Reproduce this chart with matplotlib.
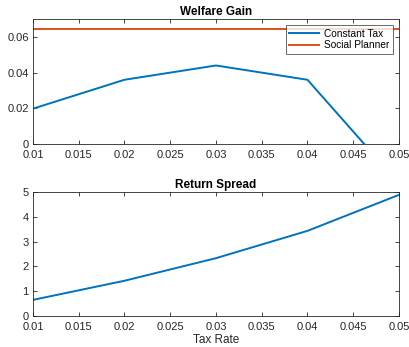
import matplotlib
matplotlib.use("Agg")
import matplotlib.pyplot as plt

plt.rcParams['font.family'] = ['Liberation Sans', 'DejaVu Sans']

tax_rate = [0.01, 0.02, 0.03, 0.04, 0.05]
welfare_constant = [0.0198, 0.0360, 0.0440, 0.0360, -0.0220]
welfare_planner = 0.0642
return_spread = [0.65, 1.42, 2.33, 3.43, 4.88]

xticks = [0.01, 0.015, 0.02, 0.025, 0.03, 0.035, 0.04, 0.045, 0.05]
xticklabels = ['0.01', '0.015', '0.02', '0.025', '0.03', '0.035', '0.04', '0.045', '0.05']

blue = '#0072BD'
orange = '#D95319'
axcol = '#262626'

fig = plt.figure(figsize=(4.10, 3.47), dpi=100)
ax1 = fig.add_axes([0.0805, 0.585, 0.8925, 0.36])
ax2 = fig.add_axes([0.0805, 0.0893, 0.8925, 0.3577])


def style(ax):
    ax.set_xlim(0.01, 0.05)
    ax.set_xticks(xticks)
    ax.set_xticklabels(xticklabels)
    ax.tick_params(direction='in', length=3, width=0.6, colors=axcol,
                   labelsize=8, top=True, right=True, pad=3)
    ax.tick_params(axis='x', pad=4.5)
    for s in ax.spines.values():
        s.set_color(axcol)
        s.set_linewidth(0.6)


ax1.plot(tax_rate, welfare_constant, color=blue, lw=1.4, label='Constant Tax')
ax1.plot([tax_rate[0], tax_rate[-1]], [welfare_planner, welfare_planner],
         color=orange, lw=1.4, label='Social Planner')
ax1.set_ylim(0, 0.07)
ax1.set_yticks([0, 0.02, 0.04, 0.06])
ax1.set_yticklabels(['0', '0.02', '0.04', '0.06'])
style(ax1)
ax1.set_title('Welfare Gain', fontsize=8.5, fontweight='bold', pad=3)
leg = ax1.legend(loc='upper right', fontsize=7.3, frameon=True, fancybox=False,
                 edgecolor=axcol, borderpad=0.35, handlelength=2.9,
                 handletextpad=0.5, labelspacing=0.15, borderaxespad=0.6)
leg.get_frame().set_linewidth(0.6)

ax2.plot(tax_rate, return_spread, color=blue, lw=1.4)
ax2.set_ylim(0, 5)
ax2.set_yticks([0, 1, 2, 3, 4, 5])
style(ax2)
ax2.set_title('Return Spread', fontsize=8.5, fontweight='bold', pad=3)
ax2.set_xlabel('Tax Rate', fontsize=8.5, color=axcol, labelpad=1)

fig.savefig('out.png', dpi=100)
